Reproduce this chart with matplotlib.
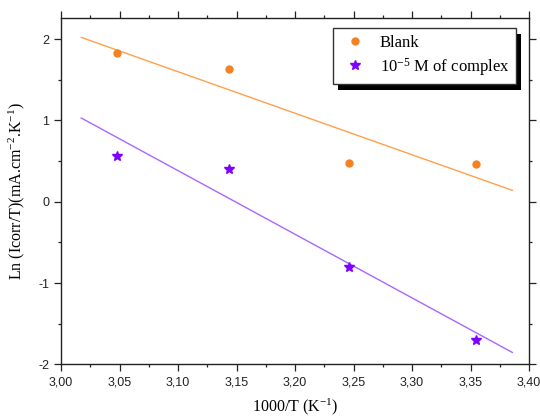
import numpy as np
import matplotlib
matplotlib.use("Agg")
import matplotlib.pyplot as plt
from matplotlib.ticker import MultipleLocator, FuncFormatter
import matplotlib.patheffects as pe

plt.rcParams['axes.unicode_minus'] = False
plt.rcParams['mathtext.fontset'] = 'custom'
plt.rcParams['mathtext.rm'] = 'Liberation Serif'
plt.rcParams['mathtext.it'] = 'Liberation Serif:italic'

# Data
inv_T = [3.048, 3.144, 3.246, 3.355]
ln_blank = [1.824, 1.627, 0.48, 0.459]
ln_complex = [0.557, 0.397, -0.80, -1.70]
series_labels = ["Blank", r"10$^{\mathrm{-5}}$ M of complex"]

c_blank_pt = '#F5821F'
c_blank_ln = '#FFA04A'
c_cplx_pt = '#7F00FF'
c_cplx_ln = '#A966FF'

fig = plt.figure(figsize=(5.4, 4.17), dpi=100)
ax = fig.add_axes([61/540, 1-364.3/417, (529-61)/540, (364.3-18)/417])

x = np.array(inv_T)
ext = 0.1 * (x.max() - x.min())
xf = np.array([x.min() - ext, x.max() + ext])
for ys, cl in [(ln_blank, c_blank_ln), (ln_complex, c_cplx_ln)]:
    p = np.polyfit(x, ys, 1)
    ax.plot(xf, np.polyval(p, xf), color=cl, lw=1.0, zorder=2)

ax.plot(inv_T, ln_blank, 'o', color=c_blank_pt, ms=5, ls='none', label=series_labels[0], zorder=3)
ax.plot(inv_T, ln_complex, '*', color=c_cplx_pt, ms=7.5, ls='none', label=series_labels[1], zorder=3)

ax.set_xlim(3.00, 3.40)
ax.set_ylim(-2, 2.26)
ax.xaxis.set_major_locator(MultipleLocator(0.05))
ax.xaxis.set_minor_locator(MultipleLocator(0.025))
ax.yaxis.set_major_locator(MultipleLocator(1))
ax.yaxis.set_minor_locator(MultipleLocator(0.5))
ax.xaxis.set_major_formatter(FuncFormatter(lambda v, p: f"{v:.2f}".replace('.', ',')))
ax.yaxis.set_major_formatter(FuncFormatter(lambda v, p: f"{int(round(v))}"))

ax.tick_params(which='both', direction='out', top=True, right=True, labeltop=False, labelright=False,
               colors='#222222', labelsize=9)
ax.tick_params(which='major', length=5, width=0.9)
ax.tick_params(which='minor', length=2.5, width=0.9)
for lab in ax.get_xticklabels() + ax.get_yticklabels():
    lab.set_family('Liberation Sans')
for s in ax.spines.values():
    s.set_linewidth(1.0)
    s.set_color('#222222')

ax.set_xlabel(r"1000/T (K$^{\mathrm{-1}}$)", family='Liberation Serif', fontsize=11.5, labelpad=6)
ax.set_ylabel(r"Ln (Icorr/T)(mA.cm$^{\mathrm{-2}}$.K$^{\mathrm{-1}}$)", family='Liberation Serif', fontsize=11.5, labelpad=8)

leg = ax.legend(loc='upper right', bbox_to_anchor=(0.972, 0.971), borderaxespad=0,
                fancybox=False, prop={'family': 'Liberation Serif', 'size': 12},
                handletextpad=0.6, borderpad=0.4, labelspacing=0.3, handlelength=1.8)
fr = leg.get_frame()
fr.set_edgecolor('#333333')
fr.set_linewidth(1.0)
fr.set_alpha(1)
fr.set_path_effects([pe.SimplePatchShadow(offset=(4, -4), shadow_rgbFace='black', alpha=1), pe.Normal()])

fig.savefig('out.png', dpi=100)
